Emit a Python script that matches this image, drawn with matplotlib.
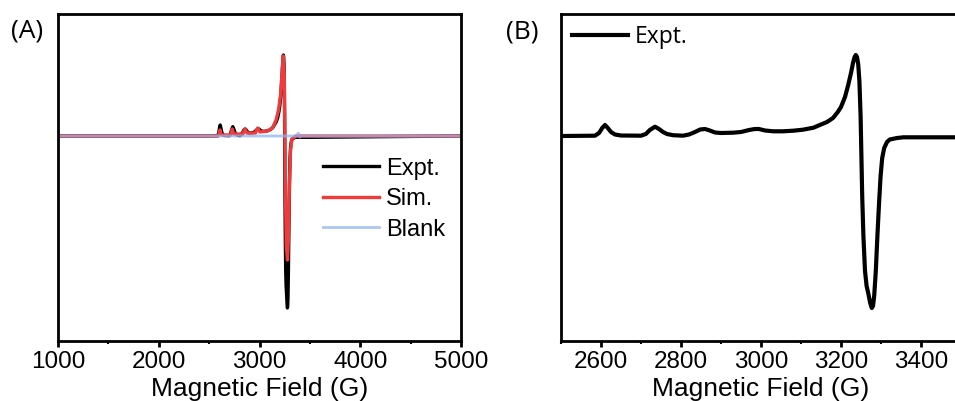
import matplotlib.pyplot as plt

# EPR spectra: field (G) and first-derivative intensity (a.u.)
expt_field = [1000, 2500, 2585, 2595, 2603, 2610, 2617, 2625, 2635, 2650, 2700, 2712,
              2722, 2735, 2745, 2755, 2765, 2780, 2805, 2820, 2835, 2848, 2860, 2872,
              2885, 2900, 2930, 2950, 2970, 2985, 2995, 3010, 3030, 3055, 3081, 3105,
              3131, 3147, 3165, 3180, 3192, 3200, 3210, 3218, 3225, 3230, 3234, 3237,
              3240, 3243, 3246, 3249, 3251, 3253, 3256, 3260, 3264, 3268, 3273, 3277,
              3280, 3283, 3287, 3291, 3295, 3299, 3303, 3308, 3315, 3322, 3340, 3356,
              3500, 5000]
expt_int = [0, 0, 0.3, 3, 8, 11, 8, 4, 1.5, 0.5, 0.3, 2,
            6, 9.3, 7, 4, 2, 0.8, 0.3, 1.5, 4, 6.5, 7, 5.5,
            3.5, 3, 3.3, 4, 6, 7, 7, 5.5, 4.7, 4.7, 5.3, 6.3,
            8.3, 11, 14, 18, 24, 29, 39, 51, 63, 73, 79, 81,
            79, 72, 55, 20, -20, -60, -100, -135, -150, -157, -167, -172,
            -170, -160, -135, -100, -68, -40, -22, -12, -6, -3.5, -2, -1.3,
            -1.3, 0]

sim_field = [1000, 2590, 2600, 2608, 2616, 2625, 2712, 2722, 2730, 2738, 2748, 2835,
             2846, 2856, 2866, 2875, 2960, 2972, 2982, 2992, 3005, 3080, 3130, 3164,
             3189, 3210, 3227, 3236, 3246, 3252, 3258, 3266, 3278, 3288, 3297, 3308,
             3322, 3360, 5000]
sim_int = [0, 0, 3, 6, 3, 1, 1, 4, 7, 4, 2, 2,
           5, 7, 5, 3, 3, 6, 8, 6, 4, 5, 8, 16,
           26, 42, 68, 80, 60, 2, -60, -110, -124, -100, -48, -14,
           -3, 0, 0]

blank_field = [1000, 3370, 3385, 3400, 3420, 5000]
blank_int = [0, 0, 3, -1, 0, 0]

plt.rcParams['font.family'] = ['Liberation Sans', 'DejaVu Sans']

fig = plt.figure(figsize=(9.55, 4.01), dpi=100)
axA = fig.add_axes([58 / 955, 60 / 401, 403 / 955, 327 / 401])
axB = fig.add_axes([561 / 955, 60 / 401, 400 / 955, 327 / 401])

axA.plot(expt_field, expt_int, color='black', lw=2.4, label='Expt.')
axA.plot(sim_field, sim_int, color='#ef3b3b', lw=2.4, label='Sim.')
axA.plot(blank_field, blank_int, color='#8fb4ee', lw=2.0, alpha=0.75, label='Blank')
axA.set_xlim(1000, 5000)
axA.set_xticks([1000, 2000, 3000, 4000, 5000])
axA.set_xticks(range(1500, 5000, 1000), minor=True)
axA.legend(loc='center left', bbox_to_anchor=(0.658, 0.434), frameon=False, fontsize=17,
           handlelength=2.35, handletextpad=0.3, labelspacing=0.36,
           borderaxespad=0, borderpad=0)

axB.plot(expt_field, expt_int, color='black', lw=3.0, label='Expt.')
axB.set_xlim(2500, 3500)
axB.set_xticks([2600, 2800, 3000, 3200, 3400])
axB.set_xticks(range(2500, 3500, 100), minor=True)
axB.legend(loc='center left', bbox_to_anchor=(0.0275, 0.93), frameon=False,
           prop={'family': 'Open Sans', 'size': 16.5},
           handlelength=2.45, handletextpad=0.3, borderaxespad=0, borderpad=0)

for ax in (axA, axB):
    ax.set_ylim(-205, 122)
    ax.set_yticks([])
    for s in ax.spines.values():
        s.set_linewidth(2.0)
    ax.tick_params(axis='x', which='major', length=4, width=2, labelsize=17.5, pad=3)
    ax.tick_params(axis='x', which='minor', length=2.5, width=1.5)
    ax.set_xlabel('Magnetic Field (G)', fontsize=19, labelpad=3)

fig.text(11 / 955, 1 - 31 / 401, '(A)', fontsize=19, family='Open Sans', va='center')
fig.text(506 / 955, 1 - 32 / 401, '(B)', fontsize=19, family='Open Sans', va='center')

fig.savefig('out.png', dpi=100)
